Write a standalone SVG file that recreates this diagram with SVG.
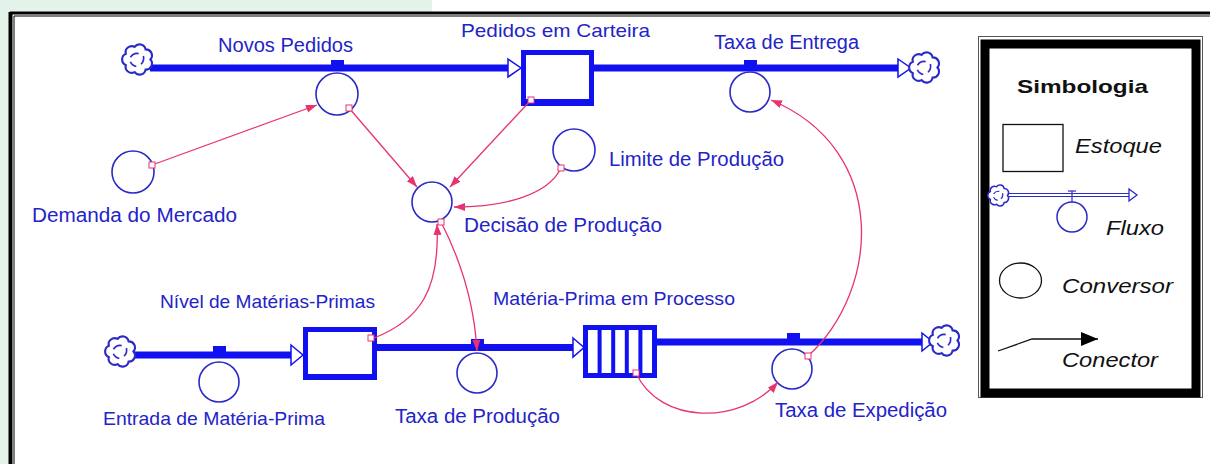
<svg xmlns="http://www.w3.org/2000/svg" xmlns:xlink="http://www.w3.org/1999/xlink" width="1210" height="464" viewBox="0 0 1210 464">
<style>
.lbl{font-family:"Liberation Sans",Arial,sans-serif;fill:#2323c8}
.big{font-size:20px}
.sm{font-size:19px}
.pipe{stroke:#1010f0;stroke-width:7;fill:none}
.conv{fill:#ffffff;stroke:#2a2ac8;stroke-width:1.6}
.stock{fill:#ffffff;stroke:#1010f0;stroke-width:5}
.ahead{fill:#ffffff;stroke:#1010f0;stroke-width:1.5}
.valve{fill:#1010f0}
.link{fill:none;stroke:#e8336e;stroke-width:1.3}
.orig{fill:#ffffff;stroke:#e8336e;stroke-width:1}
.leg{font-family:"Liberation Sans",Arial,sans-serif;fill:#111111;font-style:italic;font-size:21px}
.cl{fill:#ffffff;stroke:#2a2ac8;stroke-width:1.8}
.sw{fill:none;stroke:#2a2ac8;stroke-width:1.4}
</style>
<defs>
<symbol id="cloud" viewBox="-14 -14 28 28" overflow="visible">
<path class="cl" d="M11,0 A5.2,5.2 0 0 1 6.86,8.6 A5.2,5.2 0 0 1 -2.45,10.72 A5.2,5.2 0 0 1 -9.91,4.77 A5.2,5.2 0 0 1 -9.91,-4.77 A5.2,5.2 0 0 1 -2.45,-10.72 A5.2,5.2 0 0 1 6.86,-8.6 A5.2,5.2 0 0 1 11,0 Z"/>
<path class="sw" d="M-6,-2 Q-3,-6 1,-5 M5,-3 Q6,1 3,4 M-1,6 Q-5,5 -6,2"/>
</symbol>
<marker id="arr" markerUnits="userSpaceOnUse" markerWidth="12" markerHeight="10" refX="11" refY="4" orient="auto">
<path d="M0,0 L11,4 L0,8 Z" fill="#e8336e"/>
</marker>
<marker id="arrL" markerUnits="userSpaceOnUse" markerWidth="20" markerHeight="16" refX="17" refY="7" orient="auto">
<path d="M0,0 L17,7 L0,14 Z" fill="#000000"/>
</marker>
</defs>

<rect x="0" y="0" width="1210" height="464" fill="#ffffff"/>
<rect x="0" y="0" width="432" height="12" fill="#e3f3ea"/>
<rect x="0" y="0" width="9" height="464" fill="#e3f3ea"/>
<g id="frame">
<line x1="10" y1="13" x2="1210" y2="13" stroke="#000" stroke-width="3"/>
<line x1="14" y1="16" x2="1210" y2="16" stroke="#000" stroke-width="1.2"/>
<line x1="10.5" y1="12" x2="10.5" y2="464" stroke="#000" stroke-width="4"/>
<line x1="14" y1="16" x2="14" y2="464" stroke="#000" stroke-width="1"/>
</g>

<g id="flows">
<line class="pipe" x1="150" y1="68" x2="509" y2="68"/>
<polygon class="ahead" points="508,59 521,68 508,77"/>
<line class="pipe" x1="594" y1="68" x2="899" y2="68"/>
<polygon class="ahead" points="898,59 911,68 898,77"/>
<line class="pipe" x1="134" y1="355" x2="292" y2="355"/>
<polygon class="ahead" points="291,345 303,355 291,365"/>
<line class="pipe" x1="377" y1="347.5" x2="574" y2="347.5"/>
<polygon class="ahead" points="573,338 584,347.5 573,357"/>
<line class="pipe" x1="657" y1="342" x2="923" y2="342"/>
<polygon class="ahead" points="922,333 933,342 922,351"/>
</g>

<g id="cloud-novos"><use xlink:href="#cloud" href="#cloud" x="121" y="43" width="33" height="33"/></g>
<g id="cloud-entrega"><use xlink:href="#cloud" href="#cloud" x="908" y="51" width="33" height="33"/></g>
<g id="cloud-entrada"><use xlink:href="#cloud" href="#cloud" x="104" y="335" width="33" height="33"/></g>
<g id="cloud-expedicao"><use xlink:href="#cloud" href="#cloud" x="928" y="324" width="33" height="33"/></g>

<g id="pedidos-em-carteira">
<rect class="stock" x="523.5" y="52.5" width="68" height="51"/>
<rect class="valve" x="521" y="99" width="73" height="7"/>
<text class="lbl sm" x="461" y="37" textLength="189" lengthAdjust="spacingAndGlyphs">Pedidos em Carteira</text>
</g>

<g id="novos-pedidos">
<rect class="valve" x="331" y="60" width="13" height="6"/>
<circle class="conv" cx="337" cy="94" r="21"/>
<text class="lbl big" x="218" y="52" textLength="135" lengthAdjust="spacingAndGlyphs">Novos Pedidos</text>
</g>

<g id="taxa-de-entrega">
<rect class="valve" x="744" y="60" width="13" height="6"/>
<circle class="conv" cx="750" cy="92" r="20"/>
<text class="lbl big" x="714" y="49" textLength="145" lengthAdjust="spacingAndGlyphs">Taxa de Entrega</text>
</g>

<g id="demanda-do-mercado">
<circle class="conv" cx="133" cy="172" r="21"/>
<text class="lbl big" x="32" y="222" textLength="205" lengthAdjust="spacingAndGlyphs">Demanda do Mercado</text>
</g>

<g id="limite-de-producao">
<circle class="conv" cx="574" cy="150" r="21"/>
<text class="lbl big" x="609" y="166" textLength="175" lengthAdjust="spacingAndGlyphs">Limite de Produção</text>
</g>

<g id="decisao-de-producao">
<circle class="conv" cx="432" cy="202" r="20"/>
<text class="lbl big" x="464" y="232" textLength="198" lengthAdjust="spacingAndGlyphs">Decisão de Produção</text>
</g>

<g id="entrada-de-materia-prima">
<rect class="valve" x="213" y="346" width="13" height="6"/>
<circle class="conv" cx="219" cy="382" r="20"/>
<text class="lbl sm" x="103" y="425" textLength="222" lengthAdjust="spacingAndGlyphs">Entrada de Matéria-Prima</text>
</g>

<g id="nivel-de-materias-primas">
<rect class="stock" x="305.5" y="329.5" width="69" height="48"/>
<rect class="valve" x="303" y="374" width="74" height="6"/>
<text class="lbl sm" x="160" y="308" textLength="215" lengthAdjust="spacingAndGlyphs">Nível de Matérias-Primas</text>
</g>

<g id="taxa-de-producao">
<rect class="valve" x="471" y="339" width="13" height="6"/>
<circle class="conv" cx="477" cy="373" r="20"/>
<text class="lbl big" x="395" y="423" textLength="165" lengthAdjust="spacingAndGlyphs">Taxa de Produção</text>
</g>

<g id="materia-prima-em-processo">
<rect x="583" y="325" width="74" height="53" fill="#1010f0"/>
<rect x="588" y="330" width="9.6" height="43" fill="#fff"/>
<rect x="601.6" y="330" width="9.6" height="43" fill="#fff"/>
<rect x="615.2" y="330" width="9.6" height="43" fill="#fff"/>
<rect x="628.8" y="330" width="9.6" height="43" fill="#fff"/>
<rect x="642.4" y="330" width="9.6" height="43" fill="#fff"/>
<text class="lbl sm" x="493" y="305" textLength="242" lengthAdjust="spacingAndGlyphs">Matéria-Prima em Processo</text>
</g>

<g id="taxa-de-expedicao">
<rect class="valve" x="787" y="333" width="13" height="6"/>
<circle class="conv" cx="792" cy="369" r="20"/>
<text class="lbl big" x="775" y="417" textLength="172" lengthAdjust="spacingAndGlyphs">Taxa de Expedição</text>
</g>

<g id="connectors">
<path class="link" d="M152,165 L317,105" marker-end="url(#arr)"/>
<path class="link" d="M349,108 L417,187" marker-end="url(#arr)"/>
<path class="link" d="M531,100 L450,187" marker-end="url(#arr)"/>
<path class="link" d="M561,168 C548,195 505,207 454,207" marker-end="url(#arr)"/>
<path class="link" d="M374,338 C420,320 440,290 437,224" marker-end="url(#arr)"/>
<path class="link" d="M441,222 C458,255 474,300 477,351" marker-end="url(#arr)"/>
<path class="link" d="M636,373 C660,425 740,425 778,382" marker-end="url(#arr)"/>
<path class="link" d="M808,356 C880,290 890,150 771,100" marker-end="url(#arr)"/>
<rect class="orig" x="149" y="162" width="6" height="6"/>
<rect class="orig" x="346" y="105" width="6" height="6"/>
<rect class="orig" x="528" y="97" width="6" height="6"/>
<rect class="orig" x="558" y="165" width="6" height="6"/>
<rect class="orig" x="368" y="335" width="6" height="6"/>
<rect class="orig" x="438" y="219" width="6" height="6"/>
<rect class="orig" x="633" y="370" width="6" height="6"/>
<rect class="orig" x="805" y="353" width="6" height="6"/>
</g>

<g id="legenda">
<rect x="978.5" y="36.5" width="224" height="361" fill="#fff" stroke="#555" stroke-width="1"/>
<rect x="985" y="44" width="211" height="349" fill="#fff" stroke="#000" stroke-width="9"/>
<text x="1017" y="93" font-family="Liberation Sans, Arial, sans-serif" font-weight="bold" font-size="19" fill="#111" textLength="131" lengthAdjust="spacingAndGlyphs">Simbologia</text>
<rect x="1003" y="124.5" width="60" height="47" fill="#fff" stroke="#111" stroke-width="1.3"/>
<text class="leg" x="1075" y="153" textLength="87" lengthAdjust="spacingAndGlyphs">Estoque</text>
<line x1="1006" y1="193.5" x2="1130" y2="193.5" stroke="#2a2ac8" stroke-width="1.2"/>
<line x1="1006" y1="196.5" x2="1130" y2="196.5" stroke="#2a2ac8" stroke-width="1.2"/>
<polygon points="1129,189 1137,195 1129,201" fill="#fff" stroke="#2a2ac8" stroke-width="1.3"/>
<use xlink:href="#cloud" href="#cloud" x="987" y="184" width="23" height="23"/>
<line x1="1072" y1="191" x2="1072" y2="202" stroke="#2a2ac8" stroke-width="1.2"/>
<line x1="1068" y1="191" x2="1076" y2="191" stroke="#2a2ac8" stroke-width="1.2"/>
<circle cx="1072" cy="217" r="15" fill="#fff" stroke="#2a2ac8" stroke-width="1.5"/>
<text class="leg" x="1106" y="235" textLength="58" lengthAdjust="spacingAndGlyphs">Fluxo</text>
<ellipse cx="1020.5" cy="280.5" rx="21" ry="17.5" fill="#fff" stroke="#111" stroke-width="1.3"/>
<text class="leg" x="1062" y="293" textLength="111" lengthAdjust="spacingAndGlyphs">Conversor</text>
<path d="M998,351 L1032,339 L1098,339" fill="none" stroke="#111" stroke-width="1.3" marker-end="url(#arrL)"/>
<text class="leg" x="1062" y="367" textLength="96" lengthAdjust="spacingAndGlyphs">Conector</text>
</g>
</svg>
